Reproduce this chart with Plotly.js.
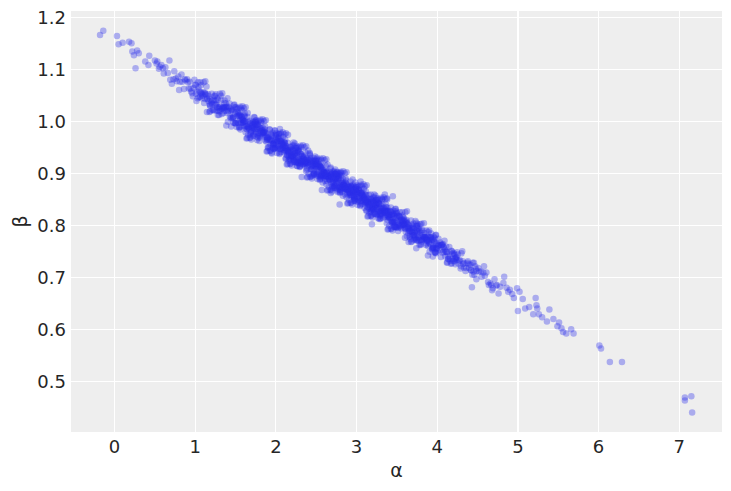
<!DOCTYPE html>
<html>
<head>
<meta charset="utf-8">
<script src="https://cdn.plot.ly/plotly-3.0.1.min.js"></script>
<style>html,body{margin:0;padding:0;background:#fff;}#chart{width:731px;height:491px;}</style>
</head>
<body>
<div id="chart"></div>
<script>
// posterior samples (alpha, beta)
const alpha = [
-0.18,-0.14,0.03,0.05,0.10,0.18,0.21,0.22,0.28,0.24,
0.30,0.26,0.43,0.38,0.42,0.50,0.53,0.56,0.68,0.61,
0.52,0.71,0.58,0.66,0.74,0.55,0.63,0.69,0.60,0.73,
0.77,0.93,0.81,0.99,0.86,0.79,0.95,0.84,0.90,0.97,
0.88,0.76,0.96,0.83,0.92,0.98,0.80,0.87,0.94,0.91,
1.02,1.17,1.08,1.23,1.11,1.04,1.20,1.14,1.01,1.19,
1.13,1.06,1.24,1.09,1.16,1.03,1.21,1.12,1.07,1.18,
1.05,1.22,1.10,1.15,1.00,1.24,1.12,1.18,1.08,1.21,
1.27,1.41,1.33,1.48,1.29,1.38,1.45,1.31,1.36,1.49,
1.39,1.26,1.44,1.32,1.47,1.35,1.28,1.42,1.30,1.46,
1.34,1.25,1.43,1.37,1.50,1.28,1.40,1.32,1.47,1.36,
1.44,1.30,1.38,1.26,1.46,1.33,1.41,1.29,1.49,1.35,
1.52,1.68,1.57,1.74,1.61,1.55,1.71,1.64,1.59,1.66,
1.63,1.51,1.73,1.58,1.69,1.54,1.67,1.60,1.72,1.56,
1.58,1.70,1.53,1.65,1.75,1.62,1.56,1.73,1.60,1.67,
1.71,1.54,1.62,1.68,1.50,1.74,1.59,1.65,1.57,1.70,
1.55,1.66,1.61,1.72,1.53,1.69,1.58,1.64,1.75,1.60,
1.77,1.92,1.83,1.98,1.86,1.79,1.95,1.88,1.81,1.97,
1.89,1.76,1.94,1.82,1.99,1.85,1.78,1.91,1.84,1.96,
1.80,1.93,1.87,1.76,1.98,1.84,1.90,1.79,1.95,1.86,
1.93,1.81,1.97,1.87,1.78,1.94,1.83,1.99,1.89,1.76,
1.85,1.96,1.78,1.90,1.82,1.99,1.87,1.80,1.92,1.75,
2.02,2.17,2.08,2.23,2.11,2.04,2.20,2.14,2.01,2.19,
2.13,2.06,2.24,2.09,2.16,2.03,2.21,2.12,2.07,2.18,
2.05,2.22,2.10,2.15,2.00,2.24,2.12,2.18,2.08,2.21,
2.16,2.01,2.19,2.07,2.25,2.11,2.04,2.22,2.09,2.14,
2.09,2.20,2.03,2.13,2.24,2.06,2.17,2.11,2.22,2.02,
2.21,2.10,2.15,2.04,2.23,2.12,2.06,2.19,2.00,2.16,
2.27,2.41,2.33,2.48,2.29,2.38,2.45,2.31,2.36,2.49,
2.39,2.26,2.44,2.32,2.47,2.35,2.28,2.42,2.30,2.46,
2.34,2.25,2.43,2.37,2.50,2.28,2.40,2.32,2.47,2.36,
2.44,2.30,2.38,2.26,2.46,2.33,2.41,2.29,2.49,2.35,
2.31,2.47,2.36,2.42,2.27,2.40,2.34,2.45,2.29,2.38,
2.48,2.32,2.43,2.28,2.37,2.50,2.26,2.39,2.44,2.34,
2.52,2.68,2.57,2.74,2.61,2.55,2.71,2.64,2.59,2.66,
2.63,2.51,2.73,2.58,2.69,2.54,2.67,2.60,2.72,2.56,
2.58,2.70,2.53,2.65,2.75,2.62,2.56,2.73,2.60,2.67,
2.71,2.54,2.62,2.68,2.50,2.74,2.59,2.65,2.57,2.70,
2.55,2.66,2.61,2.72,2.53,2.69,2.58,2.64,2.75,2.60,
2.67,2.52,2.74,2.63,2.56,2.70,2.59,2.51,2.66,2.73,
2.77,2.92,2.83,2.98,2.86,2.79,2.95,2.88,2.81,2.97,
2.89,2.76,2.94,2.82,2.99,2.85,2.78,2.91,2.84,2.96,
2.80,2.93,2.87,2.76,2.98,2.84,2.90,2.79,2.95,2.86,
2.93,2.81,2.97,2.87,2.78,2.94,2.83,2.99,2.89,2.76,
2.85,2.96,2.78,2.90,2.82,2.99,2.87,2.80,2.92,2.75,
2.91,2.83,2.77,2.95,2.88,2.80,2.97,2.84,2.79,2.93,
3.02,3.17,3.08,3.23,3.11,3.04,3.20,3.14,3.01,3.19,
3.13,3.06,3.24,3.09,3.16,3.03,3.21,3.12,3.07,3.18,
3.05,3.22,3.10,3.15,3.00,3.24,3.12,3.18,3.08,3.21,
3.16,3.01,3.19,3.07,3.25,3.11,3.04,3.22,3.09,3.14,
3.09,3.20,3.03,3.13,3.24,3.06,3.17,3.11,3.22,3.02,
3.21,3.10,3.15,3.04,3.23,3.12,3.06,3.19,3.00,3.16,
3.19,2.79,2.32,2.57,3.45,3.38,3.35,3.74,4.43,1.73,
2.40,2.95,3.60,1.95,2.15,3.05,2.68,3.90,1.40,2.05,
3.27,3.41,3.33,3.48,3.29,3.38,3.45,3.31,3.36,3.49,
3.39,3.26,3.44,3.32,3.47,3.35,3.28,3.42,3.30,3.46,
3.34,3.25,3.43,3.37,3.50,3.28,3.40,3.32,3.47,3.36,
3.44,3.30,3.38,3.26,3.46,3.33,3.41,3.29,3.49,3.35,
3.31,3.47,3.36,3.42,3.27,3.40,3.34,3.45,3.29,3.38,
3.52,3.68,3.57,3.74,3.61,3.55,3.71,3.64,3.59,3.66,
3.63,3.51,3.73,3.58,3.69,3.54,3.67,3.60,3.72,3.56,
3.58,3.70,3.53,3.65,3.75,3.62,3.56,3.73,3.60,3.67,
3.71,3.54,3.62,3.68,3.50,3.74,3.59,3.65,3.57,3.70,
3.55,3.66,3.61,3.72,3.53,3.69,3.58,3.64,3.75,3.60,
3.77,3.92,3.83,3.98,3.86,3.79,3.95,3.88,3.81,3.97,
3.89,3.76,3.94,3.82,3.99,3.85,3.78,3.91,3.84,3.96,
3.80,3.93,3.87,3.76,3.98,3.84,3.90,3.79,3.95,3.86,
3.93,3.81,3.97,3.87,3.78,3.94,3.83,3.99,3.89,3.76,
4.02,4.17,4.08,4.23,4.11,4.04,4.20,4.14,4.01,4.19,
4.13,4.06,4.24,4.09,4.16,4.03,4.21,4.12,4.07,4.18,
4.05,4.22,4.10,4.15,4.00,4.24,4.12,4.18,4.08,4.21,
4.27,4.41,4.33,4.48,4.29,4.38,4.45,4.31,4.36,4.49,
4.39,4.26,4.44,4.32,4.47,4.35,4.28,4.42,4.30,4.46,
4.52,4.68,4.57,4.74,4.61,4.55,4.71,4.64,4.59,4.66,
4.63,4.51,4.73,4.58,4.69,4.54,4.67,4.78,4.82,4.76,
4.83,4.99,5.02,5.06,5.00,5.09,5.14,5.22,5.23,5.24,
5.19,5.26,5.30,5.39,5.36,5.44,5.49,5.51,5.54,5.56,
5.60,5.66,5.69,6.01,6.03,6.14,6.29,7.07,7.07,7.15,
7.16,4.88,4.93,4.95,4.86,4.90,
1.005,1.165,1.085,1.235,1.125,1.045,1.205,1.145,1.065,1.185,
1.365,1.275,1.465,1.345,1.425,1.305,1.495,1.385,1.265,1.445,
1.575,1.725,1.535,1.655,1.605,1.745,1.505,1.685,1.625,1.555,
1.695,1.595,1.515,1.635,1.735,1.565,1.675,1.545,1.715,1.615,
1.755,1.915,1.835,1.985,1.875,1.795,1.955,1.895,1.815,1.935,
1.865,1.775,1.965,1.845,1.925,1.805,1.995,1.885,1.765,1.945,
2.075,2.225,2.035,2.155,2.105,2.245,2.005,2.185,2.125,2.055,
2.195,2.095,2.015,2.135,2.235,2.065,2.175,2.045,2.215,2.115,
2.005,2.165,2.085,2.235,2.125,2.045,2.205,2.145,2.065,2.185,
2.365,2.275,2.465,2.345,2.425,2.305,2.495,2.385,2.265,2.445,
2.325,2.475,2.285,2.405,2.355,2.495,2.255,2.435,2.375,2.305,
2.445,2.345,2.265,2.385,2.485,2.315,2.425,2.295,2.465,2.365,
2.505,2.665,2.585,2.735,2.625,2.545,2.705,2.645,2.565,2.685,
2.615,2.525,2.715,2.595,2.675,2.555,2.745,2.635,2.515,2.695,
2.575,2.725,2.535,2.655,2.605,2.745,2.505,2.685,2.625,2.555,
2.695,2.595,2.515,2.635,2.735,2.565,2.675,2.545,2.715,2.615,
2.755,2.915,2.835,2.985,2.875,2.795,2.955,2.895,2.815,2.935,
2.865,2.775,2.965,2.845,2.925,2.805,2.995,2.885,2.765,2.945,
2.825,2.975,2.785,2.905,2.855,2.995,2.755,2.935,2.875,2.805,
2.945,2.845,2.765,2.885,2.985,2.815,2.925,2.795,2.965,2.865,
3.005,3.165,3.085,3.235,3.125,3.045,3.205,3.145,3.065,3.185,
3.115,3.025,3.215,3.095,3.175,3.055,3.245,3.135,3.015,3.195,
3.075,3.225,3.035,3.155,3.105,3.245,3.005,3.185,3.125,3.055,
3.195,3.095,3.015,3.135,3.235,3.065,3.175,3.045,3.215,3.115,
3.255,3.415,3.335,3.485,3.375,3.295,3.455,3.395,3.315,3.435,
3.365,3.275,3.465,3.345,3.425,3.305,3.495,3.385,3.265,3.445,
3.325,3.475,3.285,3.405,3.355,3.495,3.255,3.435,3.375,3.305,
3.445,3.345,3.265,3.385,3.485,3.315,3.425,3.295,3.465,3.365,
3.505,3.665,3.585,3.735,3.625,3.545,3.705,3.645,3.565,3.685,
3.615,3.525,3.715,3.595,3.675,3.555,3.745,3.635,3.515,3.695,
3.575,3.725,3.535,3.655,3.605,3.745,3.505,3.685,3.625,3.555,
3.945,3.845,3.765,3.885,3.985,3.815,3.925,3.795,3.965,3.865,
3.755,3.915,3.835,3.985,3.875,3.795,3.955,3.895,3.815,3.935,
3.865,3.775,3.965,3.845,3.925,3.805,3.995,3.885,3.765,3.945,
4.075,4.225,4.035,4.155,4.105,4.245,4.005,4.185,4.125,4.055,
4.195,4.095,4.015,4.135,4.235,4.065,4.175,4.045,4.215,4.115,
4.255,4.415,4.335,4.485,4.375,4.295,4.455,4.395,4.315,4.435,
1.035,1.185,1.105,1.215,1.065,1.145,1.245,1.015,1.125,1.175,
1.405,1.305,1.475,1.335,1.445,1.255,1.385,1.485,1.295,1.365,
1.535,1.685,1.605,1.715,1.565,1.645,1.745,1.515,1.625,1.675,
1.655,1.555,1.725,1.585,1.695,1.505,1.635,1.735,1.545,1.615,
1.785,1.935,1.855,1.965,1.815,1.895,1.995,1.765,1.875,1.925,
1.905,1.805,1.975,1.835,1.945,1.755,1.885,1.985,1.795,1.865,
2.035,2.185,2.105,2.215,2.065,2.145,2.245,2.015,2.125,2.175,
2.155,2.055,2.225,2.085,2.195,2.005,2.135,2.235,2.045,2.115,
2.285,2.435,2.355,2.465,2.315,2.395,2.495,2.265,2.375,2.425,
2.405,2.305,2.475,2.335,2.445,2.255,2.385,2.485,2.295,2.365,
2.535,2.685,2.605,2.715,2.565,2.645,2.745,2.515,2.625,2.675,
2.655,2.555,2.725,2.585,2.695,2.505,2.635,2.735,2.545,2.615,
2.785,2.935,2.855,2.965,2.815,2.895,2.995,2.765,2.875,2.925,
2.905,2.805,2.975,2.835,2.945,2.755,2.885,2.985,2.795,2.865,
3.035,3.185,3.105,3.215,3.065,3.145,3.245,3.015,3.125,3.175,
3.155,3.055,3.225,3.085,3.195,3.005,3.135,3.235,3.045,3.115,
3.285,3.435,3.355,3.465,3.315,3.395,3.495,3.265,3.375,3.425,
3.405,3.305,3.475,3.335,3.445,3.255,3.385,3.485,3.295,3.365,
3.535,3.685,3.605,3.715,3.565,3.645,3.745,3.515,3.625,3.675,
3.905,3.805,3.975,3.835,3.945,3.755,3.885,3.985,3.795,3.865
];
const beta = [
1.166,1.174,1.164,1.148,1.151,1.153,1.150,1.134,1.136,1.127,
1.131,1.102,1.126,1.115,1.108,1.117,1.115,1.105,1.117,1.092,
1.111,1.072,1.108,1.093,1.096,1.101,1.104,1.080,1.102,1.081,
1.077,1.076,1.076,1.080,1.062,1.086,1.057,1.076,1.081,1.048,
1.079,1.082,1.054,1.090,1.063,1.064,1.060,1.081,1.063,1.075,
1.057,1.048,1.044,1.041,1.035,1.065,1.036,1.067,1.053,1.042,
1.051,1.047,1.048,1.049,1.052,1.044,1.040,1.043,1.069,1.033,
1.058,1.021,1.056,1.044,1.070,1.032,1.055,1.031,1.054,1.033,
1.027,1.028,1.024,1.031,1.019,1.027,1.007,1.029,1.035,0.996,
1.028,1.032,1.006,1.041,1.008,1.027,1.012,1.026,1.027,1.020,
1.025,1.040,1.009,1.027,0.996,1.041,1.016,1.049,1.007,1.025,
1.020,1.023,1.034,1.032,1.022,1.014,1.020,1.026,1.027,1.016,
1.011,0.975,1.009,0.985,1.009,1.001,0.996,0.985,1.003,0.988,
0.991,1.018,0.984,1.021,0.979,1.011,0.985,1.000,0.999,0.989,
1.009,0.988,0.997,1.008,0.980,1.000,0.984,0.995,0.997,0.999,
0.988,1.011,0.990,0.996,0.996,0.995,0.997,1.016,0.997,0.991,
1.009,0.987,1.011,0.986,1.015,0.978,1.003,0.991,1.001,0.991,
0.986,0.951,0.983,0.961,0.984,0.977,0.972,0.961,0.981,0.957,
0.965,0.993,0.963,0.997,0.949,0.980,0.974,0.969,0.987,0.949,
0.987,0.965,0.963,0.997,0.957,0.978,0.950,0.989,0.962,0.980,
0.966,0.984,0.955,0.977,0.968,0.975,0.973,0.982,0.965,0.985,
0.979,0.957,0.994,0.968,0.986,0.948,0.974,0.975,0.984,0.976,
0.961,0.926,0.958,0.936,0.959,0.952,0.947,0.935,0.961,0.935,
0.941,0.963,0.933,0.970,0.932,0.962,0.931,0.948,0.964,0.927,
0.962,0.936,0.940,0.958,0.955,0.938,0.928,0.950,0.949,0.945,
0.943,0.964,0.933,0.957,0.921,0.958,0.952,0.959,0.945,0.947,
0.955,0.933,0.969,0.945,0.944,0.941,0.944,0.944,0.954,0.949,
0.933,0.959,0.942,0.975,0.925,0.953,0.946,0.941,0.971,0.929,
0.940,0.917,0.917,0.925,0.926,0.924,0.895,0.937,0.921,0.917,
0.920,0.939,0.908,0.932,0.899,0.934,0.928,0.939,0.924,0.915,
0.930,0.928,0.929,0.921,0.918,0.919,0.921,0.923,0.929,0.915,
0.919,0.913,0.928,0.933,0.924,0.923,0.926,0.920,0.913,0.919,
0.923,0.922,0.921,0.937,0.921,0.925,0.918,0.915,0.942,0.907,
0.919,0.926,0.907,0.945,0.918,0.912,0.914,0.929,0.913,0.932,
0.907,0.897,0.895,0.890,0.885,0.914,0.885,0.917,0.895,0.895,
0.901,0.902,0.899,0.900,0.899,0.893,0.894,0.895,0.904,0.895,
0.905,0.873,0.913,0.894,0.895,0.894,0.911,0.876,0.902,0.887,
0.883,0.915,0.895,0.911,0.898,0.891,0.893,0.895,0.914,0.875,
0.912,0.892,0.889,0.901,0.902,0.893,0.882,0.904,0.882,0.906,
0.892,0.913,0.878,0.901,0.890,0.899,0.897,0.930,0.888,0.888,
0.887,0.861,0.889,0.860,0.882,0.868,0.866,0.867,0.895,0.854,
0.874,0.867,0.872,0.877,0.871,0.871,0.889,0.858,0.878,0.858,
0.874,0.876,0.870,0.903,0.850,0.881,0.862,0.881,0.876,0.859,
0.874,0.877,0.853,0.886,0.877,0.868,0.857,0.869,0.868,0.890,
0.874,0.869,0.874,0.874,0.864,0.870,0.869,0.901,0.862,0.886,
0.873,0.870,0.895,0.863,0.880,0.867,0.864,0.871,0.897,0.858,
0.861,0.826,0.858,0.836,0.859,0.852,0.847,0.835,0.861,0.835,
0.841,0.863,0.833,0.870,0.832,0.862,0.831,0.848,0.864,0.827,
0.862,0.836,0.840,0.858,0.855,0.838,0.828,0.850,0.849,0.845,
0.843,0.864,0.833,0.857,0.821,0.858,0.852,0.859,0.845,0.847,
0.855,0.833,0.869,0.845,0.844,0.841,0.844,0.844,0.854,0.849,
0.842,0.833,0.851,0.855,0.847,0.844,0.861,0.830,0.862,0.838,
0.802,0.840,0.893,0.868,0.856,0.850,0.859,0.756,0.681,1.008,
0.944,0.888,0.776,0.938,0.974,0.884,0.862,0.790,1.044,0.985,
0.827,0.828,0.824,0.831,0.819,0.827,0.807,0.829,0.835,0.796,
0.828,0.832,0.806,0.841,0.808,0.827,0.812,0.826,0.827,0.820,
0.825,0.840,0.809,0.827,0.796,0.841,0.816,0.849,0.807,0.825,
0.820,0.823,0.834,0.832,0.822,0.814,0.820,0.826,0.827,0.816,
0.832,0.796,0.830,0.817,0.843,0.816,0.833,0.804,0.833,0.816,
0.802,0.801,0.800,0.805,0.787,0.810,0.781,0.796,0.812,0.779,
0.804,0.807,0.777,0.815,0.786,0.808,0.773,0.808,0.785,0.810,
0.801,0.795,0.799,0.799,0.771,0.807,0.800,0.808,0.794,0.794,
0.793,0.799,0.810,0.790,0.818,0.773,0.802,0.790,0.819,0.781,
0.808,0.777,0.805,0.787,0.817,0.787,0.809,0.785,0.787,0.794,
0.777,0.777,0.774,0.781,0.762,0.786,0.757,0.772,0.790,0.748,
0.778,0.782,0.756,0.791,0.756,0.777,0.762,0.777,0.773,0.770,
0.779,0.772,0.765,0.788,0.748,0.785,0.766,0.802,0.759,0.775,
0.771,0.772,0.775,0.771,0.790,0.753,0.778,0.756,0.787,0.775,
0.761,0.726,0.758,0.736,0.759,0.752,0.747,0.735,0.761,0.735,
0.741,0.763,0.733,0.770,0.732,0.762,0.731,0.748,0.764,0.727,
0.762,0.736,0.740,0.758,0.755,0.738,0.728,0.750,0.749,0.745,
0.732,0.724,0.719,0.716,0.717,0.731,0.711,0.750,0.718,0.712,
0.725,0.727,0.728,0.726,0.721,0.712,0.733,0.713,0.746,0.705,
0.711,0.675,0.709,0.685,0.709,0.701,0.696,0.685,0.703,0.688,
0.691,0.718,0.684,0.721,0.679,0.711,0.685,0.682,0.689,0.669,
0.701,0.679,0.672,0.658,0.635,0.640,0.643,0.660,0.646,0.640,
0.629,0.629,0.623,0.638,0.615,0.620,0.606,0.613,0.602,0.595,
0.592,0.600,0.592,0.569,0.563,0.537,0.537,0.469,0.463,0.471,
0.440,0.672,0.668,0.660,0.680,0.676,
1.069,1.039,1.052,1.021,1.053,1.046,1.053,1.043,1.056,1.030,
1.020,1.044,1.006,1.027,1.034,1.019,1.015,1.020,1.020,1.023,
1.008,0.975,1.017,0.989,0.999,0.998,1.000,0.995,0.979,1.012,
0.982,1.003,1.024,0.985,0.988,0.997,1.001,0.989,0.993,0.999,
0.994,0.964,0.977,0.946,0.978,0.971,0.978,0.968,0.981,0.955,
0.970,0.994,0.956,0.977,0.984,0.969,0.965,0.970,0.970,0.973,
0.958,0.925,0.967,0.939,0.949,0.948,0.950,0.945,0.929,0.962,
0.932,0.953,0.974,0.935,0.938,0.947,0.951,0.939,0.943,0.949,
0.969,0.939,0.952,0.921,0.953,0.946,0.953,0.943,0.956,0.930,
0.920,0.944,0.906,0.927,0.934,0.919,0.915,0.920,0.920,0.923,
0.933,0.900,0.942,0.914,0.924,0.923,0.925,0.920,0.904,0.937,
0.907,0.928,0.949,0.910,0.913,0.922,0.926,0.914,0.918,0.924,
0.919,0.889,0.902,0.871,0.903,0.896,0.903,0.893,0.906,0.880,
0.895,0.919,0.881,0.902,0.909,0.894,0.890,0.895,0.895,0.898,
0.908,0.875,0.917,0.889,0.899,0.898,0.900,0.895,0.879,0.912,
0.882,0.903,0.924,0.885,0.888,0.897,0.901,0.889,0.893,0.899,
0.894,0.864,0.877,0.846,0.878,0.871,0.878,0.868,0.881,0.855,
0.870,0.894,0.856,0.877,0.884,0.869,0.865,0.870,0.870,0.873,
0.883,0.850,0.892,0.864,0.874,0.873,0.875,0.870,0.854,0.887,
0.857,0.878,0.899,0.860,0.863,0.872,0.876,0.864,0.868,0.874,
0.869,0.839,0.852,0.821,0.853,0.846,0.853,0.843,0.856,0.830,
0.845,0.869,0.831,0.852,0.859,0.844,0.840,0.845,0.845,0.848,
0.858,0.825,0.867,0.839,0.849,0.848,0.850,0.845,0.829,0.862,
0.832,0.853,0.874,0.835,0.838,0.847,0.851,0.839,0.843,0.849,
0.844,0.814,0.827,0.796,0.828,0.821,0.828,0.818,0.831,0.805,
0.820,0.844,0.806,0.827,0.834,0.819,0.815,0.820,0.820,0.823,
0.833,0.800,0.842,0.814,0.824,0.823,0.825,0.820,0.804,0.837,
0.807,0.828,0.849,0.810,0.813,0.822,0.826,0.814,0.818,0.824,
0.819,0.789,0.802,0.771,0.803,0.796,0.803,0.793,0.806,0.780,
0.795,0.819,0.781,0.802,0.809,0.794,0.790,0.795,0.795,0.798,
0.808,0.775,0.817,0.789,0.799,0.798,0.800,0.795,0.779,0.812,
0.757,0.778,0.799,0.760,0.763,0.772,0.776,0.764,0.768,0.774,
0.794,0.764,0.777,0.746,0.778,0.771,0.778,0.768,0.781,0.755,
0.770,0.794,0.756,0.777,0.784,0.769,0.765,0.770,0.770,0.773,
0.758,0.725,0.767,0.739,0.749,0.748,0.750,0.745,0.729,0.762,
0.732,0.753,0.774,0.735,0.738,0.747,0.751,0.739,0.743,0.749,
0.744,0.714,0.727,0.696,0.728,0.721,0.728,0.718,0.731,0.705,
1.075,1.019,1.075,1.022,1.075,1.018,1.049,1.039,1.077,1.018,
0.999,1.053,0.997,1.054,0.990,1.052,0.992,1.032,1.012,1.040,
1.025,0.969,1.025,0.972,1.025,0.968,0.999,0.989,1.027,0.968,
0.974,1.028,0.972,1.029,0.965,1.027,0.967,1.007,0.987,1.015,
1.000,0.944,1.000,0.947,1.000,0.943,0.974,0.964,1.002,0.943,
0.949,1.003,0.947,1.004,0.940,1.002,0.942,0.982,0.962,0.990,
0.975,0.919,0.975,0.922,0.975,0.918,0.949,0.939,0.977,0.918,
0.924,0.978,0.922,0.979,0.915,0.977,0.917,0.957,0.937,0.965,
0.950,0.894,0.950,0.897,0.950,0.893,0.924,0.914,0.952,0.893,
0.899,0.953,0.897,0.954,0.890,0.952,0.892,0.932,0.912,0.940,
0.925,0.869,0.925,0.872,0.925,0.868,0.899,0.889,0.927,0.868,
0.874,0.928,0.872,0.929,0.865,0.927,0.867,0.907,0.887,0.915,
0.900,0.844,0.900,0.847,0.900,0.843,0.874,0.864,0.902,0.843,
0.849,0.903,0.847,0.904,0.840,0.902,0.842,0.882,0.862,0.890,
0.875,0.819,0.875,0.822,0.875,0.818,0.849,0.839,0.877,0.818,
0.824,0.878,0.822,0.879,0.815,0.877,0.817,0.857,0.837,0.865,
0.850,0.794,0.850,0.797,0.850,0.793,0.824,0.814,0.852,0.793,
0.799,0.853,0.797,0.854,0.790,0.852,0.792,0.832,0.812,0.840,
0.825,0.769,0.825,0.772,0.825,0.768,0.799,0.789,0.827,0.768,
0.749,0.803,0.747,0.804,0.740,0.802,0.742,0.782,0.762,0.790
];
const xTicks = [0, 1, 2, 3, 4, 5, 6, 7];
const yTicks = [0.5, 0.6, 0.7, 0.8, 0.9, 1.0, 1.1, 1.2];
const xLabel = 'α';
const yLabel = 'β';

const trace = {
  type: 'scatter', mode: 'markers', x: alpha, y: beta,
  marker: {color: '#2a2eec', size: 6.5, opacity: 0.35, line: {width: 0}},
  hoverinfo: 'skip'
};
const tickFont = {family: 'DejaVu Sans', size: 18, color: '#262626'};
const titleFont = {family: 'DejaVu Sans', size: 19, color: '#262626'};
const layout = {
  width: 731, height: 491,
  margin: {l: 71, r: 9, t: 11, b: 59, pad: 0},
  paper_bgcolor: '#ffffff', plot_bgcolor: '#eeeeee',
  showlegend: false,
  xaxis: {
    range: [-0.54, 7.53], tickmode: 'array', tickvals: xTicks,
    showgrid: true, gridcolor: '#ffffff', gridwidth: 1.2, zeroline: false,
    showline: false, ticks: '', ticklabelstandoff: 2,
    tickfont: tickFont,
    title: {text: xLabel, font: titleFont, standoff: 7}
  },
  yaxis: {
    range: [0.4025, 1.212], tickmode: 'array', tickvals: yTicks,
    ticktext: yTicks.map(v => v.toFixed(1)),
    showgrid: true, gridcolor: '#ffffff', gridwidth: 1.2, zeroline: false,
    showline: false, ticks: '', ticklabelstandoff: 4,
    tickfont: tickFont,
    title: {text: yLabel, font: titleFont, standoff: 4}
  }
};
Plotly.newPlot('chart', [trace], layout, {staticPlot: true, displayModeBar: false});
</script>
</body>
</html>
